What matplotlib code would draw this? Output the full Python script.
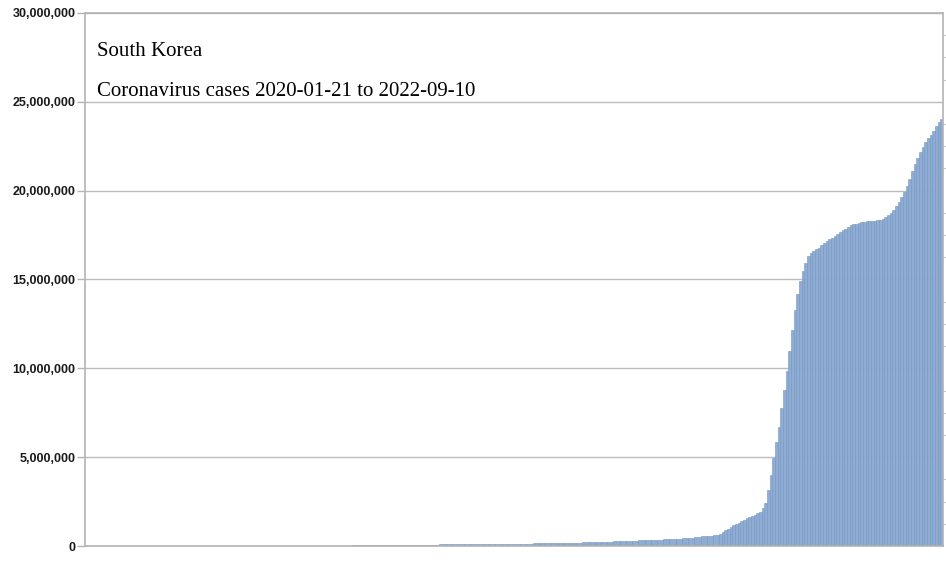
import numpy as np
import matplotlib
matplotlib.use("Agg")
import matplotlib.pyplot as plt
from matplotlib.ticker import FuncFormatter, MultipleLocator

# Cumulative cases, day 0 = 2020-01-21
start_date = "2020-01-21"
end_date = "2022-09-10"

# weekly, 2020-01-21 .. 2020-12-29, thousands
cases_2020_k = [0.001, 0.004, 0.016, 0.028, 0.031, 0.977, 5.2, 7.5, 8.3, 9.0,
                9.8, 10.3, 10.6, 10.7, 10.8, 10.8, 10.9, 11.1, 11.2, 11.5,
                11.9, 12.2, 12.5, 12.9, 13.2, 13.6, 13.9, 14.2, 14.5, 14.7,
                16.1, 17.9, 20.2, 21.6, 22.5, 23.2, 23.8, 24.4, 24.8, 25.3,
                26.0, 26.8, 27.7, 29.3, 31.7, 34.7, 38.8, 44.4, 51.5, 58.7]
# weekly, 2021-01-05 .. 2021-12-28, thousands
cases_2021_k = [65.0, 69.1, 73.1, 76.4, 79.3, 81.5, 84.9, 88.1, 90.8, 93.3,
                96.0, 98.7, 101.8, 105.3, 109.9, 114.6, 119.4, 123.2, 127.8, 131.6,
                136.5, 140.3, 144.6, 148.3, 152.5, 156.2, 162.8, 171.9, 182.3, 192.7,
                202.2, 214.2, 226.9, 240.4, 253.4, 266.1, 278.4, 290.8, 308.7, 324.7,
                336.9, 346.0, 357.4, 368.0, 385.0, 405.0, 425.0, 448.0, 500.0, 540.0,
                580.0, 620.0]
# every 3 days, 2022-01-04 .. 2022-09-10, millions
cases_2022_m = [0.70, 0.79, 0.88, 0.98, 1.07, 1.17, 1.24, 1.32, 1.40, 1.47,
                1.55, 1.62, 1.70, 1.77, 1.84, 1.92, 2.15, 2.40, 3.14, 4.02,
                4.93, 5.84, 6.72, 7.74, 8.76, 9.87, 10.97, 12.18, 13.27, 14.19,
                14.93, 15.50, 15.94, 16.31, 16.49, 16.61, 16.70, 16.79, 16.93, 17.06,
                17.16, 17.26, 17.36, 17.46, 17.56, 17.66, 17.76, 17.87, 17.98, 18.08,
                18.11, 18.15, 18.19, 18.22, 18.25, 18.27, 18.29, 18.30, 18.32, 18.33,
                18.35, 18.42, 18.50, 18.62, 18.77, 18.93, 19.15, 19.38, 19.65, 19.95,
                20.25, 20.67, 21.09, 21.48, 21.85, 22.20, 22.48, 22.75, 22.97, 23.15,
                23.35, 23.62, 23.88, 24.05]

title_lines = ["South Korea", f"Coronavirus cases {start_date} to {end_date}"]
y_max = 30_000_000
y_step = 5_000_000

weekly = np.array(cases_2020_k + cases_2021_k) * 1e3
daily3 = np.array(cases_2022_m) * 1e6
days_weekly = np.arange(len(weekly)) * 7
days_3 = days_weekly[-1] + 7 + np.arange(len(daily3)) * 3

days = np.concatenate([days_weekly, days_3])
cases = np.concatenate([weekly, daily3])
widths = np.concatenate([np.full(len(weekly), 7.0), np.full(len(daily3), 3.0)])

fig = plt.figure(figsize=(9.46, 5.77), dpi=100)
ax = fig.add_axes([0.0899, 0.0537, 0.9069, 0.9238])

ax.bar(days, cases, width=widths, align="edge", color="#8fadd2",
       edgecolor="#7395c2", linewidth=0.4, zorder=2)

ax.set_xlim(0, days[-1] + widths[-1])
ax.set_ylim(0, y_max)
ax.yaxis.set_major_locator(MultipleLocator(y_step))
ax.yaxis.set_minor_locator(MultipleLocator(y_step / 4))
ax.yaxis.set_major_formatter(FuncFormatter(lambda v, p: f"{int(v):,}"))
ax.set_xticks([])

ax.grid(axis="y", which="major", color="#7a7a7a", alpha=0.5, linewidth=1.0, zorder=3)
for side in ["left", "right", "top", "bottom"]:
    ax.spines[side].set_color("#b3b3b3")
    ax.spines[side].set_linewidth(1.2)

ax.tick_params(axis="y", which="major", length=6, width=1, color="#b3b3b3",
               labelsize=9, pad=1)
ax.tick_params(axis="y", which="minor", left=False, right=True, length=4,
               width=0.8, color="#c8c8c8", direction="out")
for lbl in ax.get_yticklabels():
    lbl.set_fontweight("bold")
    lbl.set_family("Liberation Sans")
    lbl.set_color("#1a1a1a")

ax.text(0.0145, 0.928, title_lines[0], transform=ax.transAxes,
        fontsize=15, family="Liberation Serif", color="#000000", va="center")
ax.text(0.0145, 0.853, title_lines[1], transform=ax.transAxes,
        fontsize=15, family="Liberation Serif", color="#000000", va="center")

fig.savefig("out.png", dpi=100)
